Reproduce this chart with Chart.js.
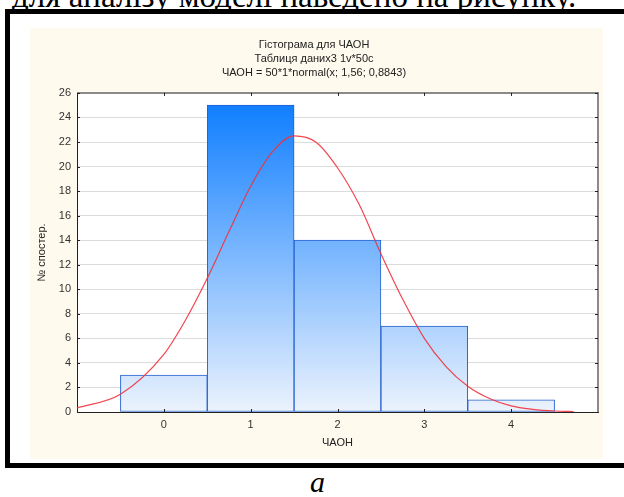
<!DOCTYPE html>
<html>
<head>
<meta charset="utf-8">
<script src="https://cdn.jsdelivr.net/npm/chart.js"></script>
<style>
  body { margin: 0; background: #fff; width: 624px; height: 497px; overflow: hidden; position: relative; font-family: "Liberation Serif", "Times New Roman", serif; }
  #lead { position: absolute; left: 12px; top: -18px; font-size: 33px; line-height: 28px; white-space: nowrap; color: #000; }
  #frame { position: absolute; left: 5px; top: 9px; width: 640px; height: 459px; border: 5px solid #000; box-sizing: border-box; }
  #chart { position: absolute; left: 30px; top: 28px; background: #fffaee; }
  #sub { position: absolute; left: 310px; top: 467px; font-size: 30px; line-height: 30px; font-style: italic; color: #000; }
</style>
</head>
<body>
<div id="lead">для аналізу моделі наведено на рисунку.</div>
<div id="frame"></div>
<canvas id="chart" width="573" height="431"></canvas>
<div id="sub">а</div>
<script>
// Дані гістограми
const categories = [0, 1, 2, 3, 4];
const counts = [3, 25, 14, 7, 1];

// Нормальна крива, значення
const curveX = [-1, -0.5, 0, 0.25, 0.5, 0.75, 1, 1.25, 1.5, 1.75, 2, 2.25, 2.5, 2.75, 3, 3.25, 3.5, 3.75, 4, 4.25, 4.5, 4.72];
const curveY = [0.33, 1.45, 4.7, 7.5, 10.9, 14.7, 18.4, 21.2, 22.5, 22.0, 19.9, 16.9, 12.9, 9.2, 6.0, 3.7, 2.1, 1.1, 0.5, 0.22, 0.08, 0.03];

// Підписи осей
const xTicks = [0, 1, 2, 3, 4];
const yTicks = [0, 2, 4, 6, 8, 10, 12, 14, 16, 18, 20, 22, 24, 26];

const titleLines = ["Гістограма для ЧАОН", "Таблиця даних3 1v*50c", "ЧАОН = 50*1*normal(x; 1,56; 0,8843)"];

Chart.defaults.font.family = '"Liberation Sans", Arial, sans-serif';
Chart.defaults.font.size = 11;

// біле поле графіка + сіра рамка та внутрішні засічки
const plotFrame = {
    id: "plotFrame",
    beforeDraw(chart) {
        const { ctx, chartArea: a } = chart;
        ctx.save();
        ctx.fillStyle = "#fff";
        ctx.fillRect(a.left, a.top, a.right - a.left, a.bottom - a.top);
        ctx.restore();
    },
    afterDraw(chart) {
        const { ctx, chartArea: a, scales: { x, y } } = chart;
        ctx.save();
        ctx.strokeStyle = "#8a8a8a";
        ctx.lineWidth = 2;
        ctx.beginPath();
        ctx.moveTo(a.left, a.top);
        ctx.lineTo(a.right, a.top);
        ctx.lineTo(a.right, a.bottom);
        ctx.stroke();
        ctx.strokeStyle = "#222";
        ctx.lineWidth = 1;
        ctx.beginPath();
        x.ticks.forEach(t => {
            const px = Math.round(x.getPixelForValue(t.value)) + 0.5;
            ctx.moveTo(px, a.bottom); ctx.lineTo(px, a.bottom - 3);
            ctx.moveTo(px, a.top); ctx.lineTo(px, a.top + 3);
        });
        y.ticks.forEach(t => {
            const py = Math.round(y.getPixelForValue(t.value)) + 0.5;
            ctx.moveTo(a.left, py); ctx.lineTo(a.left + 3, py);
            ctx.moveTo(a.right, py); ctx.lineTo(a.right - 3, py);
        });
        ctx.stroke();
        ctx.restore();
    }
};

new Chart(document.getElementById("chart"), {
    type: "bar",
    data: {
        datasets: [{
            type: "line",
            data: curveX.map((v, i) => ({ x: v, y: curveY[i] })),
            borderColor: "rgba(240, 50, 60, 0.9)",
            borderWidth: 1.2,
            pointRadius: 0,
            cubicInterpolationMode: "monotone",
            order: 1
        }, {
            type: "bar",
            data: categories.map((c, i) => ({ x: c, y: counts[i] })),
            backgroundColor: (c) => {
                const a = c.chart.chartArea;
                if (!a) return "#6aa8ff";
                const g = c.chart.ctx.createLinearGradient(0, a.top, 0, a.bottom);
                g.addColorStop(0, "#087aff");
                g.addColorStop(1, "#ecf3fd");
                return g;
            },
            borderColor: "#2460d0",
            borderWidth: 1,
            borderSkipped: false,
            barPercentage: 1,
            categoryPercentage: 1,
            order: 2
        }]
    },
    options: {
        responsive: false,
        animation: false,
        layout: { padding: { left: 0, right: 5, top: 0, bottom: 0 } },
        plugins: {
            legend: { display: false },
            tooltip: { enabled: false },
            title: {
                display: true,
                text: titleLines,
                color: "#222",
                font: { size: 11, weight: "normal", lineHeight: 1.27 },
                padding: { top: 10, bottom: 13 }
            }
        },
        scales: {
            x: {
                type: "linear",
                min: -1,
                max: 5,
                offset: false,
                afterBuildTicks: s => { s.ticks = xTicks.map(v => ({ value: v })); },
                afterFit: s => { s.height = 47; },
                grid: { color: "transparent", drawTicks: false },
                border: { color: "#222" },
                ticks: { padding: 6, color: "#333" },
                title: { display: true, text: "ЧАОН", color: "#222", padding: { top: 0, bottom: 9 } }
            },
            y: {
                min: 0,
                max: 26,
                afterBuildTicks: s => { s.ticks = yTicks.map(v => ({ value: v })); },
                afterFit: s => { s.width = 47; },
                grid: { color: "#dcdcdc", drawTicks: false },
                border: { color: "#222" },
                ticks: { padding: 6, color: "#333" },
                title: { display: true, text: "№ спостер.", color: "#222", padding: { top: 5, bottom: 0 } }
            }
        }
    },
    plugins: [plotFrame]
});
</script>
</body>
</html>
